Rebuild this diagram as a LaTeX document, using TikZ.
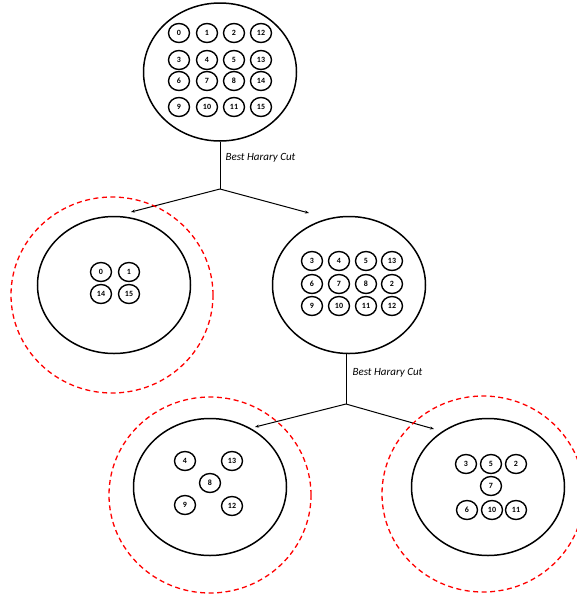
\documentclass[tikz,border=0pt]{standalone}
\usepackage{fontspec}
\setmainfont{Carlito}
\usetikzlibrary{shapes.geometric,arrows.meta}

\tikzset{
  vset/.style={draw, ellipse, line width=1.5pt, minimum width=153pt, minimum height=137pt, inner sep=0pt},
  vpart/.style={draw=red, ellipse, line width=1.3pt, dash pattern=on 5pt off 3.5pt, minimum width=202pt, minimum height=196pt, inner sep=0pt},
  vnum/.style={draw, ellipse, line width=1.4pt, minimum width=21pt, minimum height=19pt, inner sep=0pt, font=\bfseries\fontsize{8}{9}\selectfont},
  cutline/.style={line width=1pt},
  cutarrow/.style={line width=1pt, -{Stealth[length=4pt,width=3pt]}},
  cutlabel/.style={font=\itshape\fontsize{11}{13}\selectfont, anchor=west}
}

\begin{document}
\begin{tikzpicture}[x=1pt,y=-1pt]
        \useasboundingbox (0,0) rectangle (577,598);

        % Whole graph.
        \node [vset, minimum height=138pt] (top) at (220,72) {};
        \node [vnum] (t0) at (179,33) {0};
        \node [vnum] (t1) at (207,33) {1};
        \node [vnum] (t2) at (234,33) {2};
        \node [vnum] (t12) at (261,33) {12};
        \node [vnum] (t3) at (179,60) {3};
        \node [vnum] (t4) at (207,60) {4};
        \node [vnum] (t5) at (234,60) {5};
        \node [vnum] (t13) at (261,60) {13};
        \node [vnum] (t6) at (179,81) {6};
        \node [vnum] (t7) at (207,81) {7};
        \node [vnum] (t8) at (234,81) {8};
        \node [vnum] (t14) at (261,81) {14};
        \node [vnum] (t9) at (179,107) {9};
        \node [vnum] (t10) at (207,107) {10};
        \node [vnum] (t11) at (234,107) {11};
        \node [vnum] (t15) at (261,107) {15};

        % First cut.
        \coordinate (split1) at (220,189);
        \coordinate (endA) at (131,212);
        \coordinate (endB) at (309,213);
        \draw [cutline] (top.south) -- (split1);
        \draw [cutarrow] (split1) -- (endA);
        \draw [cutarrow] (split1) -- (endB);
        \node [cutlabel] (lab1) at (222,158) {Best Harary Cut};

        % Left part (final).
        \node [vpart] (partA) at (112,295) {};
        \node [vset] (setA) at (114,285) {};
        \node [vnum] (a0) at (101,272) {0};
        \node [vnum] (a1) at (129,272) {1};
        \node [vnum] (a14) at (101,294) {14};
        \node [vnum] (a15) at (129,294) {15};

        % Right part.
        \node [vset] (setB) at (349,285) {};
        \node [vnum] (b3) at (312,261) {3};
        \node [vnum] (b4) at (339,261) {4};
        \node [vnum] (b5) at (366,261) {5};
        \node [vnum] (b13) at (392,261) {13};
        \node [vnum] (b6) at (312,284) {6};
        \node [vnum] (b7) at (339,284) {7};
        \node [vnum] (b8) at (366,284) {8};
        \node [vnum] (b2) at (392,284) {2};
        \node [vnum] (b9) at (312,306) {9};
        \node [vnum] (b10) at (339,306) {10};
        \node [vnum] (b11) at (366,306) {11};
        \node [vnum] (b12) at (392,306) {12};

        % Second cut.
        \coordinate (split2) at (346,404);
        \coordinate (endC) at (255,427);
        \coordinate (endD) at (434,429);
        \draw [cutline] (setB.south -| split2) -- (split2);
        \draw [cutarrow] (split2) -- (endC);
        \draw [cutarrow] (split2) -- (endD);
        \node [cutlabel] (lab2) at (349,373) {Best Harary Cut};

        % Bottom left part.
        \node [vpart] (partC) at (210,495) {};
        \node [vset] (setC) at (210,487) {};
        \node [vnum] (c4) at (185,461) {4};
        \node [vnum] (c13) at (232,461) {13};
        \node [vnum] (c8) at (210,483) {8};
        \node [vnum] (c9) at (185,505) {9};
        \node [vnum] (c12) at (232,506) {12};

        % Bottom right part.
        \node [vpart] (partD) at (483,494) {};
        \node [vset] (setD) at (488,487) {};
        \node [vnum] (d3) at (466,464) {3};
        \node [vnum] (d5) at (491,464) {5};
        \node [vnum] (d2) at (516,464) {2};
        \node [vnum] (d7) at (491,486) {7};
        \node [vnum] (d6) at (467,510) {6};
        \node [vnum] (d10) at (492,510) {10};
        \node [vnum] (d11) at (516,510) {11};
      \end{tikzpicture}
\end{document}
